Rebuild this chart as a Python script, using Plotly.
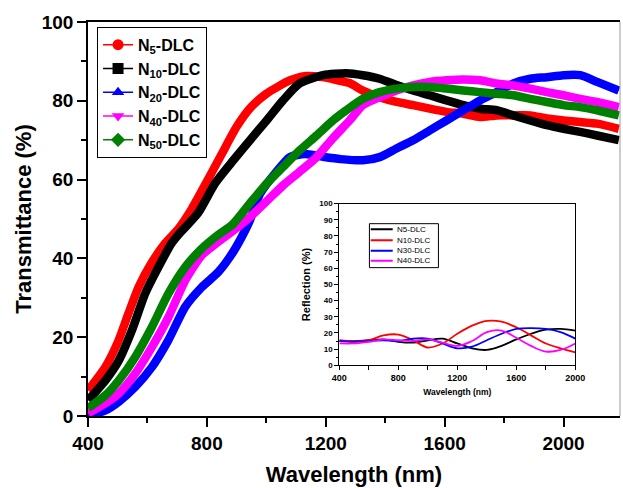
import plotly.graph_objects as go

# ---------------- main chart data (Transmittance %) ----------------
series_names = ["N5-DLC", "N10-DLC", "N20-DLC", "N40-DLC", "N50-DLC"]
series_labels = ["<b>N<sub>5</sub>-DLC</b>", "<b>N<sub>10</sub>-DLC</b>", "<b>N<sub>20</sub>-DLC</b>",
                 "<b>N<sub>40</sub>-DLC</b>", "<b>N<sub>50</sub>-DLC</b>"]
series_colors = ["#ff0000", "#000000", "#0000ff", "#ff00ff", "#008000"]
series_symbols = ["circle", "square", "triangle-up", "triangle-down", "diamond"]

n5_x = [400, 458, 503, 536, 570, 615, 659, 704, 750, 800, 850, 900, 950, 1000, 1080, 1135, 1190, 1240,
        1280, 1325, 1381, 1438, 1494, 1550, 1606, 1663, 1719, 1775, 1831, 1888, 1944, 2000, 2056, 2113, 2186]
n5_y = [6.5, 12.4, 19.2, 26, 32.7, 39, 43.8, 47.5, 52.7, 59.5, 66.5, 73.4, 78.5, 81.8, 85.2, 86.3, 86, 85.2,
        84.5, 82.6, 80.9, 79.7, 78.9, 78, 77.2, 76.7, 75.9, 76.3, 76.3, 76.3, 75.5, 75, 74.6, 74.2, 72.9]

n10_x = [400, 458, 503, 548, 592, 637, 681, 704, 771, 827, 889, 945, 1001, 1056, 1112, 1191, 1269, 1325,
         1381, 1438, 1494, 1550, 1606, 1663, 1719, 1775, 1831, 1888, 1944, 2000, 2056, 2113, 2186]
n10_y = [4, 9, 14, 21.8, 31, 37.8, 43.8, 46, 51.6, 59, 64.9, 70, 75, 80.1, 84.4, 86.5, 87, 86.5,
         85.6, 84, 82.6, 81.4, 80.1, 78.9, 78, 77.6, 76.3, 75, 73.8, 72.9, 72.1, 71.2, 70]

n20_x = [400, 458, 503, 559, 615, 670, 727, 783, 838, 883, 917, 945, 979, 1034, 1079, 1130, 1190, 1250,
         1325, 1381, 1438, 1494, 1550, 1606, 1663, 1719, 1775, 1831, 1888, 1944, 2000, 2056, 2113, 2186]
n20_y = [0, 1.4, 3.6, 7.4, 12.4, 19.2, 27.7, 32.7, 36.5, 41, 45.4, 49.7, 56.4, 62, 65.7, 66.5, 65.8, 65.2,
         64.9, 65.7, 67.9, 70, 72.5, 75, 77.6, 80.1, 82.2, 84.4, 85.6, 86, 86.5, 86.5, 84.8, 82.6]

n40_x = [400, 458, 503, 559, 615, 670, 727, 783, 838, 883, 945, 1001, 1056, 1112, 1169, 1224, 1280, 1325,
         1381, 1438, 1494, 1550, 1606, 1663, 1719, 1775, 1831, 1888, 1944, 2000, 2056, 2113, 2186]
n40_y = [0.7, 3.2, 5.7, 10.8, 17.5, 25, 34.4, 40.8, 44.2, 46.7, 50.5, 54.5, 58.5, 62, 65.7, 70.5, 75, 78.9,
         80.9, 82.6, 83.9, 84.8, 85.2, 85.4, 85.2, 84.4, 83.9, 83.1, 82.2, 81.4, 80.5, 79.7, 78.4]

n50_x = [400, 458, 503, 559, 615, 670, 727, 783, 838, 885, 945, 1001, 1056, 1112, 1169, 1224, 1269, 1325,
         1381, 1438, 1494, 1550, 1606, 1663, 1719, 1775, 1831, 1888, 1944, 2000, 2056, 2113, 2186]
n50_y = [2, 5.2, 9, 15, 22.6, 31, 37.8, 42.5, 46, 48.5, 54, 59, 63.2, 67.4, 71.2, 75, 77.6, 80.5,
         82.2, 83.1, 83.5, 83.5, 83.1, 82.6, 82.2, 81.8, 81.4, 80.5, 79.7, 78.9, 78.4, 77.6, 76.3]

series_x = [n5_x, n10_x, n20_x, n40_x, n50_x]
series_y = [n5_y, n10_y, n20_y, n40_y, n50_y]

x_ticks = [400, 800, 1200, 1600, 2000]
y_ticks = [0, 20, 40, 60, 80, 100]

# ---------------- inset data (Reflection %) ----------------
inset_names = ["N5-DLC", "N10-DLC", "N30-DLC", "N40-DLC"]
inset_colors = ["#000000", "#ff0000", "#0000ff", "#ff00ff"]
inset_x = [400, 500, 600, 700, 800, 900, 1000, 1100, 1200, 1300, 1400, 1500, 1600, 1700, 1800, 1900, 2000]
inset_n5 = [15, 15, 15.5, 16, 14.5, 14, 15.5, 16.5, 13.5, 10.5, 9.5, 12, 16, 19.5, 22, 22.5, 21.5]
inset_n10 = [15.5, 14.8, 15.5, 18.5, 19, 15.5, 11, 13.5, 19.5, 24.5, 27.5, 27, 23.5, 18.5, 13.5, 10.5, 8]
inset_n30 = [15, 14.5, 15, 15.5, 15, 16.5, 16.5, 13.5, 10.5, 11.5, 15.5, 19.5, 22.5, 23, 22.5, 20.5, 16.5]
inset_n40 = [13.5, 13.5, 14.5, 16, 15.5, 15, 16, 14, 12, 15, 20.5, 21.5, 17, 12, 8.5, 9.5, 13.5]
inset_y = [inset_n5, inset_n10, inset_n30, inset_n40]
inset_x_ticks = [400, 800, 1200, 1600, 2000]
inset_y_ticks = [0, 10, 20, 30, 40, 50, 60, 70, 80, 90, 100]

FONT = "Arial, Liberation Sans, sans-serif"

fig = go.Figure()

# main curves
for name, xs, ys, col in zip(series_names, series_x, series_y, series_colors):
    fig.add_trace(go.Scatter(x=xs, y=ys, mode="lines", name=name, showlegend=False,
                             line=dict(color=col, width=8.5, shape="spline", smoothing=0.6),
                             xaxis="x", yaxis="y", hoverinfo="skip"))
# main legend entries
for i, (lab, col, sym) in enumerate(zip(series_labels, series_colors, series_symbols)):
    fig.add_trace(go.Scatter(x=[None], y=[None], mode="lines+markers", name=lab,
                             legendgroup=f"g{i}",
                             line=dict(color=col, width=1.5),
                             marker=dict(color=col, symbol=sym, size=11),
                             xaxis="x", yaxis="y"))

# inset curves
for name, ys, col in zip(inset_names, inset_y, inset_colors):
    fig.add_trace(go.Scatter(x=inset_x, y=ys, mode="lines", name=name, showlegend=False,
                             line=dict(color=col, width=1.8, shape="spline", smoothing=1.0),
                             xaxis="x2", yaxis="y2", hoverinfo="skip"))

# inset legend (drawn manually, compact like the original)
leg_y = [84.1, 77.3, 70.9, 64.7]
shapes = [
    dict(type="rect", xref="x2", yref="y2", x0=604, x1=1072, y0=60.4, y1=87.6,
         line=dict(color="black", width=1), fillcolor="white", layer="below"),
    dict(type="line", xref="paper", yref="paper", x0=1, x1=1, y0=0, y1=1,
         line=dict(color="#9a9a9a", width=1)),
]
annotations = []
for name, col, yy in zip(inset_names, inset_colors, leg_y):
    shapes.append(dict(type="line", xref="x2", yref="y2", x0=613, x1=762, y0=yy, y1=yy,
                       line=dict(color=col, width=2)))
    annotations.append(dict(xref="x2", yref="y2", x=778, y=yy, text=name, showarrow=False,
                            xanchor="left", yanchor="middle",
                            font=dict(family=FONT, size=8, color="black")))

fig.update_layout(
    width=623, height=488,
    margin=dict(l=88, r=3, t=22, b=72),
    paper_bgcolor="white", plot_bgcolor="white",
    font=dict(family=FONT, color="black"),
    showlegend=True,
    legend=dict(x=0.017, y=0.988, xanchor="left", yanchor="top",
                bgcolor="white", bordercolor="black", borderwidth=1,
                font=dict(family=FONT, size=16, color="black"),
                tracegroupgap=0, itemwidth=30),
    xaxis=dict(domain=[0, 1], range=[400, 2190], tickvals=x_ticks, automargin=False,
               ticktext=[f"<b>{v}</b>" for v in x_ticks],
               showline=True, linecolor="black", linewidth=1.5, mirror=True,
               ticks="outside", ticklen=9, tickwidth=1.5, tickcolor="black",
               minor=dict(dtick=200, tick0=400, ticks="outside", ticklen=5, tickwidth=1.5, tickcolor="black"),
               showgrid=False, zeroline=False,
               tickfont=dict(family=FONT, size=19, color="black"),
               title=dict(text="<b>Wavelength (nm)</b>", font=dict(family=FONT, size=22), standoff=14)),
    yaxis=dict(domain=[0, 1], range=[0, 100], tickvals=y_ticks, automargin=False,
               ticktext=[f"<b>{v}</b>" for v in y_ticks],
               showline=True, linecolor="black", linewidth=1.5, mirror=False,
               ticks="outside", ticklen=9, tickwidth=1.5, tickcolor="black",
               minor=dict(dtick=10, tick0=0, ticks="outside", ticklen=5, tickwidth=1.5, tickcolor="black"),
               showgrid=False, zeroline=False,
               tickfont=dict(family=FONT, size=19, color="black"),
               title=dict(text="<b>Transmittance (%)</b>", font=dict(family=FONT, size=22), standoff=4)),
    xaxis2=dict(domain=[0.4724, 0.916], anchor="y2", range=[400, 2000], tickvals=inset_x_ticks,
                automargin=False,
                ticktext=[f"<b>{v}</b>" for v in inset_x_ticks],
                showline=True, linecolor="black", linewidth=1, mirror=True,
                ticks="outside", ticklen=4, tickwidth=1, tickcolor="black",
                minor=dict(dtick=200, tick0=400, ticks="outside", ticklen=4, tickwidth=1, tickcolor="black"),
                showgrid=False, zeroline=False,
                tickfont=dict(family=FONT, size=9, color="black"),
                title=dict(text="<b>Wavelength (nm)</b>", font=dict(family=FONT, size=8.5), standoff=6)),
    yaxis2=dict(domain=[0.1287, 0.539], anchor="x2", range=[0, 100], tickvals=inset_y_ticks,
                automargin=False,
                ticktext=[f"<b>{v}</b>" for v in inset_y_ticks],
                showline=True, linecolor="black", linewidth=1, mirror=True,
                ticks="outside", ticklen=4, tickwidth=1, tickcolor="black",
                minor=dict(dtick=5, tick0=0, ticks="outside", ticklen=2, tickwidth=1, tickcolor="black"),
                showgrid=False, zeroline=False,
                tickfont=dict(family=FONT, size=8, color="black"),
                title=dict(text="<b>Reflection (%)</b>", font=dict(family=FONT, size=11), standoff=6)),
    shapes=shapes,
    annotations=annotations,
)

fig.write_html("out.html", config={"displayModeBar": False},
               post_script="document.body.style.margin='0';document.body.style.padding='0';"
                           "document.body.style.overflow='hidden';")
